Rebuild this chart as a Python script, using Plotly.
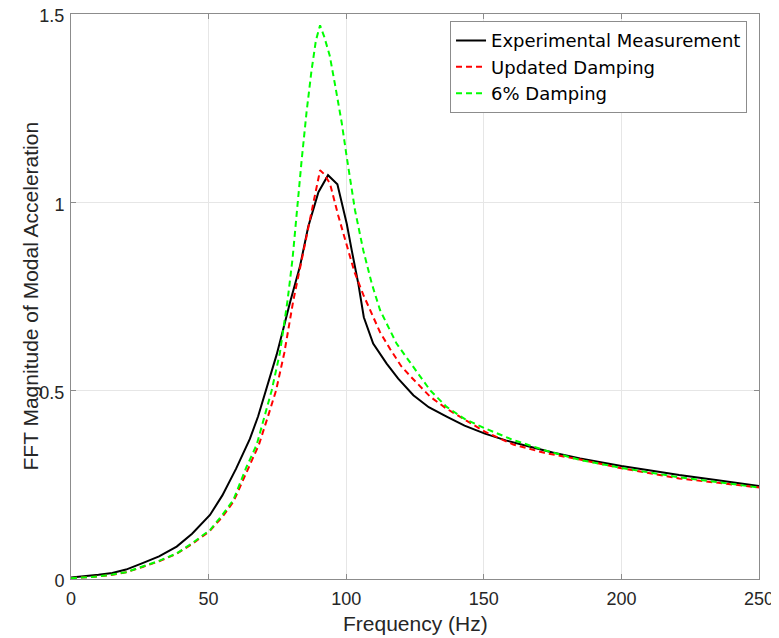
import plotly.graph_objects as go

# Experimental measurement (black solid)
exp_freq = [0, 5, 10, 15, 20, 26, 32, 38.4, 44, 50.5, 55, 60, 65, 68, 71.3, 74.7, 77, 79.6,
            83.2, 86.2, 89.9, 93.4, 96.8, 100.2, 102, 104.4, 106.4, 109.8, 114.7, 118.9,
            124.4, 130, 136.5, 143, 150.4, 158, 166.8, 175, 185, 192, 200, 210, 221, 235, 250]
exp_mag = [0.004, 0.007, 0.011, 0.016, 0.025, 0.042, 0.06, 0.086, 0.12, 0.17, 0.222, 0.293, 0.372,
           0.432, 0.51, 0.595, 0.66, 0.735, 0.83, 0.935, 1.027, 1.072, 1.048, 0.943, 0.873,
           0.784, 0.695, 0.625, 0.572, 0.532, 0.488, 0.456, 0.431, 0.407, 0.386, 0.368,
           0.351, 0.336, 0.32, 0.31, 0.300, 0.289, 0.276, 0.262, 0.247]

# Updated damping model (red dashed)
upd_freq = [0, 5, 10, 15, 20, 26, 32, 38.4, 44, 50.5, 55, 59, 63.8, 68.3, 71.5, 74.5, 77.5,
            80.8, 83.8, 86.2, 88.7, 90.5, 92, 94.1, 97.1, 100.2, 103, 106.2, 109.8, 112.3,
            116, 120, 123.5, 130.5, 136.5, 142.6, 150.4, 160.7, 172, 185, 200, 221, 250]
upd_mag = [0.002, 0.004, 0.007, 0.011, 0.018, 0.032, 0.047, 0.067, 0.093, 0.128, 0.165, 0.205,
           0.285, 0.357, 0.43, 0.5, 0.6, 0.74, 0.846, 0.934, 1.023, 1.085, 1.075, 1.05, 0.965,
           0.885, 0.815, 0.755, 0.696, 0.655, 0.61, 0.565, 0.537, 0.484, 0.452, 0.426, 0.391,
           0.357, 0.335, 0.317, 0.294, 0.267, 0.243]

# 6% damping model (green dashed)
six_freq = [0, 5, 10, 15, 20, 26, 32, 38.4, 44, 50.5, 55, 59, 63.8, 67.5, 70, 72.9, 75.9,
            78.7, 80.5, 82, 83.8, 85.6, 87.4, 89, 90.5, 92, 94, 96, 98.4, 100.2, 103.2,
            106.2, 109.3, 112.3, 118.3, 124.4, 130.5, 136.5, 143, 150.4, 160.7, 172, 185,
            200, 221, 250]
six_mag = [0.002, 0.004, 0.007, 0.012, 0.018, 0.033, 0.048, 0.068, 0.095, 0.13, 0.17, 0.21,
           0.298, 0.357, 0.42, 0.5, 0.6, 0.74, 0.85, 0.979, 1.111, 1.24, 1.35, 1.43, 1.47,
           1.44, 1.39, 1.31, 1.21, 1.12, 0.979, 0.873, 0.784, 0.714, 0.625, 0.563, 0.501,
           0.457, 0.425, 0.4, 0.369, 0.342, 0.316, 0.295, 0.27, 0.243]

x_ticks = [0, 50, 100, 150, 200, 250]
y_ticks = [0, 0.5, 1, 1.5]
y_tick_text = ["0", "0.5", "1", "1.5"]

FONT = "Liberation Sans, Arial, Helvetica, sans-serif"
LEG_FONT = "DejaVu Sans, Liberation Sans, sans-serif"
TXT = "#262626"
AX = "#8c8c8c"

fig = go.Figure()
fig.add_trace(go.Scatter(x=exp_freq, y=exp_mag, mode="lines", name="Experimental Measurement",
                         line=dict(color="#000000", width=2)))
fig.add_trace(go.Scatter(x=upd_freq, y=upd_mag, mode="lines", name="Updated Damping",
                         line=dict(color="#ff0000", width=2, dash="6px,4px")))
fig.add_trace(go.Scatter(x=six_freq, y=six_mag, mode="lines", name="6% Damping",
                         line=dict(color="#00ff00", width=2, dash="6px,4px")))

axis_common = dict(showline=True, linecolor=AX, linewidth=1, mirror="ticks",
                   ticks="inside", ticklen=5, tickcolor=AX, showgrid=True,
                   gridcolor="#e6e6e6", gridwidth=1, zeroline=False, automargin=False,
                   ticklabeloverflow="allow",
                   tickfont=dict(family=FONT, size=18, color=TXT))

# the page body adds an 8px offset at top/left, so the figure is 771x630
fig.update_layout(
    width=771, height=630,
    margin=dict(l=63, r=20, t=6, b=59, autoexpand=False),
    paper_bgcolor="white", plot_bgcolor="white",
    showlegend=True,
    legend=dict(x=0.9826, y=0.9873, xanchor="right", yanchor="top",
                bgcolor="white", bordercolor=AX, borderwidth=1,
                font=dict(family=LEG_FONT, size=18, color="#000000"),
                tracegroupgap=0),
    xaxis=dict(range=[0, 250], tickvals=x_ticks, ticklabelstandoff=3, **axis_common),
    yaxis=dict(range=[0, 1.5], tickvals=y_ticks, ticktext=y_tick_text,
               ticklabelstandoff=2, ticklabelshift=2, **axis_common),
    hovermode=False,
    annotations=[
        dict(text="Frequency (Hz)", xref="paper", yref="paper", x=0.5, y=0,
             yshift=-44, xanchor="center", yanchor="middle", showarrow=False,
             font=dict(family=FONT, size=21, color=TXT)),
        dict(text="FFT Magnitude of Modal Acceleration", xref="paper", yref="paper",
             x=0, y=0.5, xshift=-41, xanchor="center", yanchor="middle", textangle=-90,
             showarrow=False, font=dict(family=FONT, size=21, color=TXT)),
    ],
)

fig.write_html("out.html")
